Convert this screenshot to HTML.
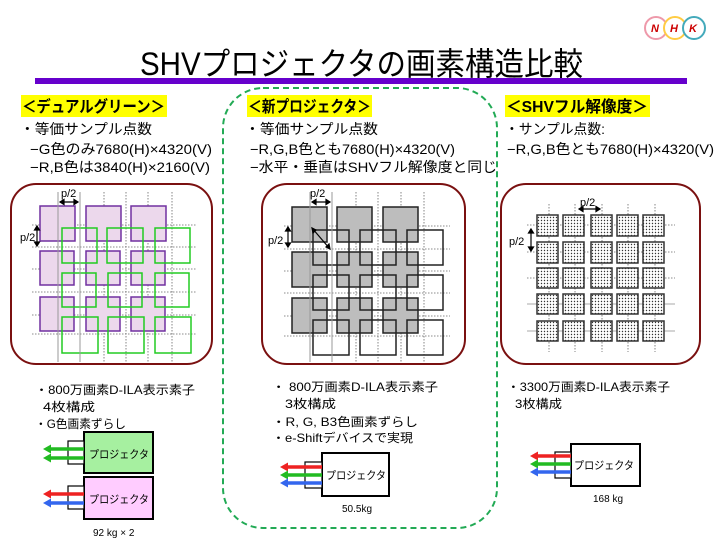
<!DOCTYPE html>
<html><head><meta charset="utf-8"><style>
html,body{margin:0;padding:0;background:#fff;}
svg{display:block;}
text{font-family:"Liberation Sans","Noto Sans CJK JP",sans-serif;fill:#000;}
</style></head><body>
<svg width="720" height="540" viewBox="0 0 720 540" xmlns="http://www.w3.org/2000/svg">
<defs>
<pattern id="dots" width="3" height="3" patternUnits="userSpaceOnUse"><rect width="3" height="3" fill="#fff"/><circle cx="1.5" cy="1.5" r="0.7" fill="#333"/></pattern>
</defs>
<!-- NHK logo -->
<g font-weight="bold" font-style="italic" font-size="11">
<circle cx="656" cy="28" r="11" fill="#fff" stroke="#e9a" stroke-width="2"/>
<circle cx="675" cy="28" r="11" fill="#fff" stroke="#fc4" stroke-width="2"/>
<circle cx="694" cy="28" r="11" fill="#fff" stroke="#4ab" stroke-width="2"/>
<text x="651" y="32" fill="#c00" style="fill:#c00">N</text>
<text x="670" y="32" style="fill:#c00">H</text>
<text x="689" y="32" style="fill:#c00">K</text>
</g>
<!-- title -->
<text x="140" y="75" font-size="32" textLength="443" lengthAdjust="spacingAndGlyphs">SHVプロジェクタの画素構造比較</text>
<rect x="35" y="78" width="652" height="6" fill="#6600cc"/>
<!-- dashed green -->
<rect x="223" y="88" width="274" height="440" rx="40" fill="none" stroke="#22aa55" stroke-width="2" stroke-dasharray="6,4"/>
<!-- headers -->
<rect x="21" y="95" width="146" height="22" fill="#ffff00"/>
<rect x="247" y="95" width="125" height="22" fill="#ffff00"/>
<rect x="505" y="95" width="145" height="22" fill="#ffff00"/>
<g font-size="16" font-weight="bold">
<text x="22" y="112" textLength="143" lengthAdjust="spacingAndGlyphs">＜デュアルグリーン＞</text>
<text x="248" y="112" textLength="123" lengthAdjust="spacingAndGlyphs">＜新プロジェクタ＞</text>
<text x="506" y="112" textLength="142" lengthAdjust="spacingAndGlyphs">＜SHVフル解像度＞</text>
</g>
<g font-size="14">
<text x="20" y="134" textLength="132" lengthAdjust="spacingAndGlyphs">・等価サンプル点数</text>
<text x="30" y="154" textLength="182" lengthAdjust="spacingAndGlyphs">−G色のみ7680(H)×4320(V)</text>
<text x="30" y="172" textLength="180" lengthAdjust="spacingAndGlyphs">−R,B色は3840(H)×2160(V)</text>
<text x="245" y="134" textLength="133" lengthAdjust="spacingAndGlyphs">・等価サンプル点数</text>
<text x="250" y="154" textLength="205" lengthAdjust="spacingAndGlyphs">−R,G,B色とも7680(H)×4320(V)</text>
<text x="250" y="172" textLength="247" lengthAdjust="spacingAndGlyphs">−水平・垂直はSHVフル解像度と同じ</text>
<text x="505" y="134" textLength="100" lengthAdjust="spacingAndGlyphs">・サンプル点数:</text>
<text x="507" y="154" textLength="207" lengthAdjust="spacingAndGlyphs">−R,G,B色とも7680(H)×4320(V)</text>
</g>
<!-- panels -->
<rect x="11" y="184" width="201" height="180" rx="25" fill="#fff" stroke="#7a1010" stroke-width="2"/>
<rect x="262" y="184" width="203" height="180" rx="25" fill="#fff" stroke="#7a1010" stroke-width="2"/>
<rect x="501" y="184" width="199" height="180" rx="25" fill="#fff" stroke="#7a1010" stroke-width="2"/>

<!-- left grid -->
<g stroke="#666" stroke-width="0.8" stroke-dasharray="1.5,1.5">
<line x1="104" y1="192" x2="104" y2="362"/><line x1="126" y1="192" x2="126" y2="362"/><line x1="148" y1="192" x2="148" y2="362"/><line x1="172" y1="192" x2="172" y2="362"/>
<line x1="32" y1="225" x2="196" y2="225"/><line x1="32" y1="247" x2="196" y2="247"/><line x1="32" y1="269" x2="196" y2="269"/><line x1="32" y1="292" x2="196" y2="292"/><line x1="32" y1="315" x2="196" y2="315"/><line x1="32" y1="334" x2="196" y2="334"/>
</g>
<g fill="#ecd8ec" stroke="#7030a0" stroke-width="1.5">
<rect x="40" y="206" width="35" height="35"/><rect x="86" y="206" width="35" height="35"/><rect x="131" y="206" width="35" height="35"/>
<rect x="40" y="251" width="34" height="34"/><rect x="86" y="251" width="34" height="34"/><rect x="131" y="251" width="34" height="34"/>
<rect x="40" y="297" width="34" height="34"/><rect x="86" y="297" width="34" height="34"/><rect x="131" y="297" width="34" height="34"/>
</g>
<g fill="none" stroke="#22cc22" stroke-width="1.5">
<rect x="62" y="228" width="35" height="35"/><rect x="107" y="228" width="36" height="35"/><rect x="155" y="228" width="35" height="35"/>
<rect x="62" y="273" width="34" height="34"/><rect x="108" y="273" width="34" height="34"/><rect x="155" y="273" width="34" height="34"/>
<rect x="62" y="317" width="36" height="36"/><rect x="108" y="317" width="36" height="36"/><rect x="155" y="317" width="36" height="36"/>
</g>
<g stroke="#999" stroke-width="1"><line x1="58" y1="192" x2="58" y2="362"/><line x1="80" y1="192" x2="80" y2="362"/></g>
<g stroke="#000" stroke-width="1.2">
<line x1="60" y1="202" x2="78" y2="202"/><path d="M60,202 l4,-2.5 v5z M78,202 l-4,-2.5 v5z" fill="#000"/>
<line x1="37" y1="226" x2="37" y2="246"/><path d="M37,226 l-2.5,4 h5z M37,246 l-2.5,-4 h5z" fill="#000"/>
</g>
<text x="61" y="197" font-size="11">p/2</text>
<text x="20" y="241" font-size="11">p/2</text>

<!-- middle grid -->
<g stroke="#666" stroke-width="0.8" stroke-dasharray="1.5,1.5">
<line x1="356" y1="192" x2="356" y2="362"/><line x1="378" y1="192" x2="378" y2="362"/><line x1="401" y1="192" x2="401" y2="362"/><line x1="424" y1="192" x2="424" y2="362"/>
<line x1="284" y1="226" x2="450" y2="226"/><line x1="284" y1="249" x2="450" y2="249"/><line x1="284" y1="271" x2="450" y2="271"/><line x1="284" y1="293" x2="450" y2="293"/><line x1="284" y1="316" x2="450" y2="316"/><line x1="284" y1="336" x2="450" y2="336"/>
</g>
<g fill="#bdbdbd" stroke="#222" stroke-width="1.5">
<rect x="292" y="207" width="35" height="35"/><rect x="337" y="207" width="35" height="35"/><rect x="383" y="207" width="35" height="35"/>
<rect x="292" y="252" width="35" height="35"/><rect x="337" y="252" width="35" height="35"/><rect x="383" y="252" width="35" height="35"/>
<rect x="292" y="298" width="35" height="35"/><rect x="337" y="298" width="35" height="35"/><rect x="383" y="298" width="35" height="35"/>
</g>
<g fill="none" stroke="#222" stroke-width="1.5">
<rect x="313" y="230" width="36" height="35"/><rect x="360" y="230" width="36" height="35"/><rect x="407" y="230" width="36" height="35"/>
<rect x="313" y="275" width="36" height="35"/><rect x="360" y="275" width="36" height="35"/><rect x="407" y="275" width="36" height="35"/>
<rect x="313" y="320" width="36" height="35"/><rect x="360" y="320" width="36" height="35"/><rect x="407" y="320" width="36" height="35"/>
<rect x="313" y="207" width="0" height="0"/>
</g>
<g stroke="#999" stroke-width="1"><line x1="310" y1="192" x2="310" y2="362"/><line x1="332" y1="192" x2="332" y2="362"/></g>
<g stroke="#000" stroke-width="1.2">
<line x1="312" y1="202" x2="330" y2="202"/><path d="M312,202 l4,-2.5 v5z M330,202 l-4,-2.5 v5z" fill="#000"/>
<line x1="288" y1="227" x2="288" y2="247"/><path d="M288,227 l-2.5,4 h5z M288,247 l-2.5,-4 h5z" fill="#000"/>
<line x1="312" y1="228" x2="330" y2="249"/><path d="M312,228 l1,5 l3,-3z M330,249 l-1,-5 l-3,3z" fill="#000"/>
</g>
<text x="310" y="197" font-size="11">p/2</text>
<text x="268" y="244" font-size="11">p/2</text>

<!-- right grid -->
<g stroke="#666" stroke-width="0.8" stroke-dasharray="1.5,1.5">
<line x1="549" y1="204" x2="549" y2="352"/><line x1="575" y1="204" x2="575" y2="352"/><line x1="602" y1="204" x2="602" y2="352"/><line x1="628" y1="204" x2="628" y2="352"/><line x1="655" y1="204" x2="655" y2="352"/>
<line x1="527" y1="225" x2="675" y2="225"/><line x1="527" y1="252" x2="675" y2="252"/><line x1="527" y1="278" x2="675" y2="278"/>
</g>
<g stroke="#aaa" stroke-width="1"><line x1="527" y1="304" x2="675" y2="304"/><line x1="527" y1="331" x2="675" y2="331"/></g>
<g fill="url(#dots)" stroke="#333" stroke-width="1.5">
<rect x="537" y="215" width="21" height="21"/><rect x="563" y="215" width="21" height="21"/><rect x="591" y="215" width="21" height="21"/><rect x="617" y="215" width="21" height="21"/><rect x="643" y="215" width="21" height="21"/>
<rect x="537" y="242" width="21" height="21"/><rect x="563" y="242" width="21" height="21"/><rect x="591" y="242" width="21" height="21"/><rect x="617" y="242" width="21" height="21"/><rect x="643" y="242" width="21" height="21"/>
<rect x="537" y="268" width="21" height="20"/><rect x="563" y="268" width="21" height="20"/><rect x="591" y="268" width="21" height="20"/><rect x="617" y="268" width="21" height="20"/><rect x="643" y="268" width="21" height="20"/>
<rect x="537" y="294" width="21" height="20"/><rect x="563" y="294" width="21" height="20"/><rect x="591" y="294" width="21" height="20"/><rect x="617" y="294" width="21" height="20"/><rect x="643" y="294" width="21" height="20"/>
<rect x="537" y="321" width="21" height="20"/><rect x="563" y="321" width="21" height="20"/><rect x="591" y="321" width="21" height="20"/><rect x="617" y="321" width="21" height="20"/><rect x="643" y="321" width="21" height="20"/>
</g>
<g stroke="#000" stroke-width="1.2">
<line x1="579" y1="209" x2="600" y2="209"/><path d="M579,209 l4,-2.5 v5z M600,209 l-4,-2.5 v5z" fill="#000"/>
<line x1="531" y1="229" x2="531" y2="251"/><path d="M531,229 l-2.5,4 h5z M531,251 l-2.5,-4 h5z" fill="#000"/>
</g>
<text x="580" y="206" font-size="11">p/2</text>
<text x="509" y="245" font-size="11">p/2</text>

<!-- bottom texts -->
<g font-size="12">
<text x="35" y="394" textLength="160" lengthAdjust="spacingAndGlyphs">・800万画素D-ILA表示素子</text>
<text x="43" y="411" textLength="52" lengthAdjust="spacingAndGlyphs">4枚構成</text>
<text x="35" y="428" textLength="91" lengthAdjust="spacingAndGlyphs">・G色画素ずらし</text>
<text x="272" y="391" textLength="166" lengthAdjust="spacingAndGlyphs">・ 800万画素D-ILA表示素子</text>
<text x="285" y="408" textLength="51" lengthAdjust="spacingAndGlyphs">3枚構成</text>
<text x="272" y="426" textLength="146" lengthAdjust="spacingAndGlyphs">・R, G, B3色画素ずらし</text>
<text x="272" y="442" textLength="141" lengthAdjust="spacingAndGlyphs">・e-Shiftデバイスで実現</text>
<text x="507" y="391" textLength="163" lengthAdjust="spacingAndGlyphs">・3300万画素D-ILA表示素子</text>
<text x="515" y="408" textLength="47" lengthAdjust="spacingAndGlyphs">3枚構成</text>
</g>

<!-- projectors -->
<g stroke="#000" stroke-width="2">
<rect x="84" y="432" width="69" height="41" fill="#a6f0a0"/>
<rect x="84" y="477" width="69" height="42" fill="#ffccff"/>
<rect x="322" y="453" width="67" height="43" fill="#fff"/>
<rect x="571" y="444" width="69" height="42" fill="#fff"/>
</g>
<g stroke="#000" stroke-width="1.2" fill="#fff">
<rect x="68" y="441" width="16" height="23"/><rect x="68" y="486" width="16" height="23"/>
<rect x="305" y="462" width="17" height="26"/><rect x="555" y="452" width="16" height="26"/>
</g>
<g stroke-width="3.5" fill="none">
<line x1="50" y1="449" x2="84" y2="449" stroke="#22bb22"/><line x1="50" y1="458" x2="84" y2="458" stroke="#22bb22"/>
<line x1="50" y1="494" x2="84" y2="494" stroke="#ee2222"/><line x1="50" y1="503" x2="84" y2="503" stroke="#3366ee"/>
<line x1="287" y1="467" x2="322" y2="467" stroke="#ee2222"/><line x1="287" y1="475" x2="322" y2="475" stroke="#22bb22"/><line x1="287" y1="483" x2="322" y2="483" stroke="#3366ee"/>
<line x1="537" y1="456" x2="571" y2="456" stroke="#ee2222"/><line x1="537" y1="464" x2="571" y2="464" stroke="#22bb22"/><line x1="537" y1="472" x2="571" y2="472" stroke="#3366ee"/>
</g>
<g>
<path d="M43,449 l8,-4.5 v9z M43,458 l8,-4.5 v9z" fill="#22bb22"/>
<path d="M43,494 l8,-4.5 v9z" fill="#ee2222"/><path d="M43,503 l8,-4.5 v9z" fill="#3366ee"/>
<path d="M280,467 l8,-4.5 v9z" fill="#ee2222"/><path d="M280,475 l8,-4.5 v9z" fill="#22bb22"/><path d="M280,483 l8,-4.5 v9z" fill="#3366ee"/>
<path d="M530,456 l8,-4.5 v9z" fill="#ee2222"/><path d="M530,464 l8,-4.5 v9z" fill="#22bb22"/><path d="M530,472 l8,-4.5 v9z" fill="#3366ee"/>
</g>
<g font-size="11">
<text x="89" y="458" textLength="60" lengthAdjust="spacingAndGlyphs">プロジェクタ</text>
<text x="89" y="503" textLength="60" lengthAdjust="spacingAndGlyphs">プロジェクタ</text>
<text x="326" y="479" textLength="60" lengthAdjust="spacingAndGlyphs">プロジェクタ</text>
<text x="574" y="469" textLength="60" lengthAdjust="spacingAndGlyphs">プロジェクタ</text>
</g>
<g font-size="10">
<text x="93" y="536">92 kg × 2</text>
<text x="342" y="512">50.5kg</text>
<text x="593" y="502">168 kg</text>
</g>
</svg>
</body></html>
